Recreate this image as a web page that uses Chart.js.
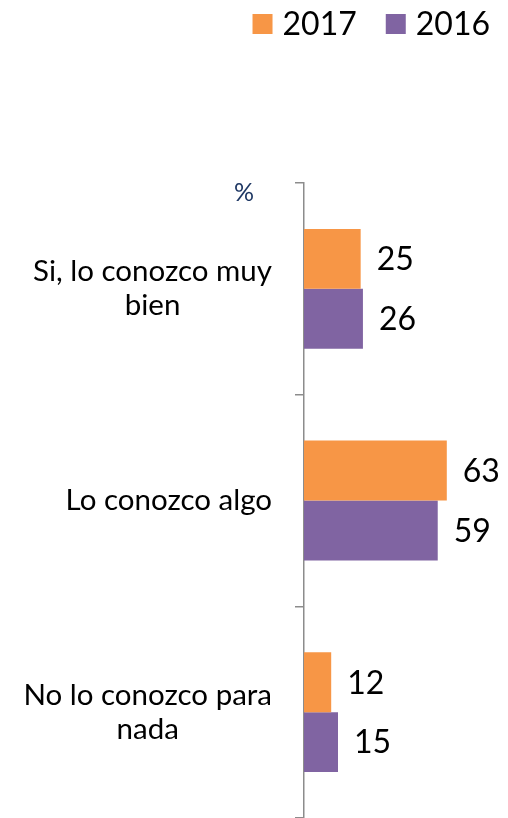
<!DOCTYPE html>
<html>
<head>
<meta charset="utf-8">
<script src="https://cdn.jsdelivr.net/npm/chart.js@4.4.1/dist/chart.umd.min.js"></script>
<style>
  html, body { margin: 0; padding: 0; background: #fff; }
  #wrap { width: 508px; height: 818px; position: relative; }
</style>
</head>
<body>
<div id="wrap"><canvas id="chart"></canvas></div>
<script>
// data
const categories = [
  ["Si, lo conozco muy", "bien"],
  ["Lo conozco algo"],
  ["No lo conozco para", "nada"],
];
const seriesNames = ["2017", "2016"];
const values2017 = [25, 63, 12];
const values2016 = [26, 59, 15];
const unitLabel = "%";

const ORANGE = "#F79646";
const PURPLE = "#8064A2";
const AXIS = "#8C8C8C";
const FONT = "Lato, 'Open Sans', sans-serif";

// legend drawn by hand: Excel puts the text much closer to the swatch
const legendBox = {
  id: "legendBox",
  afterDraw(chart) {
    const { ctx } = chart;
    ctx.save();
    ctx.font = "32px " + FONT;
    ctx.textAlign = "left";
    ctx.textBaseline = "middle";
    const box = 20, gap = 10, between = 29, right = 490, cy = 24;
    const items = chart.data.datasets.map((ds) => ({
      text: ds.label,
      color: ds.backgroundColor,
      w: ctx.measureText(ds.label).width,
    }));
    let total = items.reduce((s, it) => s + box + gap + it.w, 0) + between * (items.length - 1);
    let x = right - total;
    items.forEach((it) => {
      ctx.fillStyle = it.color;
      ctx.fillRect(x, cy - box / 2, box, box);
      ctx.fillStyle = "#000";
      ctx.fillText(it.text, x + box + gap, cy + 1);
      x += box + gap + it.w + between;
    });
    ctx.restore();
  },
};

// category labels: lines centred on each other, block right aligned at the axis
const catLabels = {
  id: "catLabels",
  afterDraw(chart) {
    const { ctx, scales } = chart;
    ctx.save();
    ctx.font = "29.5px " + FONT;
    ctx.fillStyle = "#000";
    ctx.textAlign = "center";
    ctx.textBaseline = "middle";
    const right = 272, lh = 34;
    categories.forEach((lines, i) => {
      const y = scales.y.getPixelForValue(i);
      const w = Math.max(...lines.map((l) => ctx.measureText(l).width));
      const cx = right - w / 2;
      const y0 = y - ((lines.length - 1) * lh) / 2;
      lines.forEach((l, j) => ctx.fillText(l, cx, y0 + j * lh));
    });
    // unit label
    ctx.font = "25px " + FONT;
    ctx.fillStyle = "#1F3864";
    ctx.fillText(unitLabel, 244, chart.chartArea.top + 10);
    ctx.restore();
  },
};

// value labels to the right of each bar
const valueLabels = {
  id: "valueLabels",
  afterDatasetsDraw(chart) {
    const { ctx } = chart;
    ctx.save();
    ctx.font = "32px " + FONT;
    ctx.fillStyle = "#000";
    ctx.textAlign = "left";
    ctx.textBaseline = "middle";
    chart.data.datasets.forEach((ds, di) => {
      chart.getDatasetMeta(di).data.forEach((bar, i) => {
        ctx.fillText(ds.data[i], bar.x + 16, bar.y + 1);
      });
    });
    ctx.restore();
  },
};

new Chart(document.getElementById("chart"), {
  type: "bar",
  data: {
    labels: categories,
    datasets: [
      { label: seriesNames[0], data: values2017, backgroundColor: ORANGE },
      { label: seriesNames[1], data: values2016, backgroundColor: PURPLE },
    ],
  },
  options: {
    indexAxis: "y",
    responsive: true,
    maintainAspectRatio: false,
    animation: false,
    layout: { padding: { left: 0, right: 0, top: 183, bottom: 0 } },
    datasets: {
      bar: { categoryPercentage: 0.566, barPercentage: 1 },
    },
    scales: {
      x: { min: 0, max: 90, display: false },
      y: {
        afterFit(scale) {
          scale.width = 304;
        },
        border: { color: AXIS, width: 1.5 },
        grid: {
          offset: true,
          drawOnChartArea: false,
          color: AXIS,
          lineWidth: 1.5,
          tickLength: 9,
        },
        ticks: { display: false },
      },
    },
    plugins: {
      legend: { display: false },
      tooltip: { enabled: false },
    },
  },
  plugins: [legendBox, catLabels, valueLabels],
});
</script>
</body>
</html>
